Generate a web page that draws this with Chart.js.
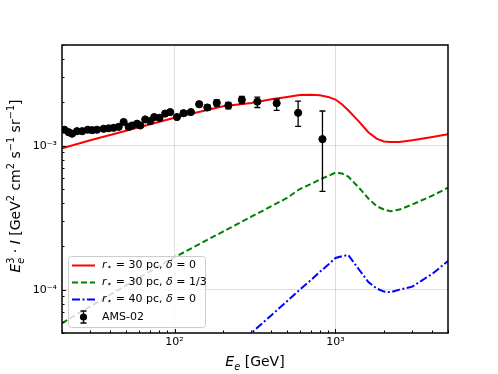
<!DOCTYPE html>
<html lang="en">
<head>
<meta charset="UTF-8">
<title>Electron spectrum vs AMS-02</title>
<script src="https://cdn.jsdelivr.net/npm/chart.js"></script>
<style>
  body { margin: 0; background: #fff; }
  #wrap { width: 498px; height: 374px; }
</style>
</head>
<body>
<div id="wrap"><canvas id="chart" width="498" height="374"></canvas></div>
<script>
// model curves, energy grid in GeV
const energies = [20, 30, 50, 100, 200, 300, 400, 500, 600, 700, 800, 900, 1000,
                  1100, 1200, 1400, 1600, 1800, 2000, 2200, 2500, 3000, 4000, 5000];
const r30d0 = [9.6e-4, 1.09e-3, 1.27e-3, 1.56e-3, 1.88e-3, 1.98e-3, 2.10e-3, 2.18e-3, 2.25e-3, 2.26e-3, 2.24e-3, 2.18e-3, 2.09e-3,
               1.93e-3, 1.76e-3, 1.47e-3, 1.24e-3, 1.12e-3, 1.07e-3, 1.06e-3, 1.06e-3, 1.09e-3, 1.15e-3, 1.20e-3];
const r30d13 = [5.86e-5, 7.64e-5, 1.07e-4, 1.68e-4, 2.53e-4, 3.21e-4, 3.8e-4, 4.33e-4, 5.0e-4, 5.4e-4, 5.83e-4, 6.15e-4, 6.5e-4,
                6.4e-4, 6.1e-4, 5.1e-4, 4.3e-4, 3.8e-4, 3.6e-4, 3.5e-4, 3.6e-4, 3.9e-4, 4.5e-4, 5.1e-4];
const r40d0 = [3.8e-6, 5.6e-6, 9.1e-6, 1.76e-5, 3.4e-5, 5.0e-5, 6.65e-5, 8.3e-5, 1.0e-4, 1.16e-4, 1.33e-4, 1.49e-4, 1.66e-4,
               1.71e-4, 1.74e-4, 1.38e-4, 1.13e-4, 1.02e-4, 9.7e-5, 9.6e-5, 1.0e-4, 1.05e-4, 1.29e-4, 1.58e-4];

// AMS-02 points
const amsE = [20.7, 22.0, 23.1, 24.8, 26.7, 28.9, 30.8, 33.0, 36.3, 39.0, 41.9, 45.0, 48.3, 51.9, 54.5, 58.5,
              61.3, 65.8, 70.7, 74.8, 80.7, 87.5, 94.0, 103.5, 113.7, 126.4, 142.3, 160, 183, 216, 262, 327, 431, 586, 830];
const amsFlux = [1.29e-3, 1.24e-3, 1.21e-3, 1.26e-3, 1.26e-3, 1.29e-3, 1.28e-3, 1.29e-3, 1.31e-3, 1.32e-3, 1.33e-3, 1.35e-3,
                 1.46e-3, 1.35e-3, 1.38e-3, 1.42e-3, 1.38e-3, 1.52e-3, 1.48e-3, 1.58e-3, 1.56e-3, 1.67e-3, 1.71e-3, 1.58e-3,
                 1.68e-3, 1.71e-3, 1.94e-3, 1.84e-3, 1.98e-3, 1.90e-3, 2.08e-3, 2.02e-3, 1.97e-3, 1.69e-3, 1.11e-3];
const amsLo = [1.27e-3, 1.22e-3, 1.19e-3, 1.24e-3, 1.24e-3, 1.27e-3, 1.26e-3, 1.27e-3, 1.29e-3, 1.30e-3, 1.31e-3, 1.32e-3,
               1.43e-3, 1.32e-3, 1.35e-3, 1.39e-3, 1.35e-3, 1.48e-3, 1.44e-3, 1.54e-3, 1.52e-3, 1.62e-3, 1.66e-3, 1.53e-3,
               1.62e-3, 1.65e-3, 1.87e-3, 1.76e-3, 1.88e-3, 1.80e-3, 1.96e-3, 1.84e-3, 1.76e-3, 1.36e-3, 4.82e-4];
const amsHi = [1.31e-3, 1.26e-3, 1.23e-3, 1.28e-3, 1.28e-3, 1.31e-3, 1.30e-3, 1.31e-3, 1.33e-3, 1.34e-3, 1.35e-3, 1.38e-3,
               1.49e-3, 1.38e-3, 1.41e-3, 1.45e-3, 1.41e-3, 1.56e-3, 1.52e-3, 1.62e-3, 1.60e-3, 1.72e-3, 1.76e-3, 1.63e-3,
               1.74e-3, 1.77e-3, 2.01e-3, 1.92e-3, 2.08e-3, 2.00e-3, 2.20e-3, 2.17e-3, 2.10e-3, 2.04e-3, 1.74e-3];

const xMajor = [100, 1000];
const yMajor = [1e-4, 1e-3];

const FONT = '"DejaVu Sans", sans-serif';
const SUP = { '0': '⁰', '1': '¹', '2': '²', '3': '³', '4': '⁴', '5': '⁵', '6': '⁶', '7': '⁷', '8': '⁸', '9': '⁹', '-': '⁻' };
function pow10(v) {
    const e = Math.round(Math.log10(v));
    return '10' + String(e).split('').map(c => SUP[c]).join('');
}
const pts = ys => energies.map((x, i) => ({ x: x, y: ys[i] }));

// draw text made of pieces (italic, super/subscript), centered at the origin
function drawMath(ctx, segs, size) {
    const f = s => (s.it ? 'italic ' : '') + ((s.sup || s.sub) ? size * 0.7 : size) + 'px ' + FONT;
    let total = 0;
    segs.forEach(s => { ctx.font = f(s); s.w = ctx.measureText(s.t).width; if (!s.noAdv) total += s.w; });
    let x = -total / 2;
    ctx.textBaseline = 'alphabetic';
    ctx.textAlign = 'left';
    segs.forEach(s => {
        ctx.font = f(s);
        const dy = s.sup ? -size * 0.42 : s.sub ? size * 0.25 : 0;
        ctx.fillText(s.t, x, dy);
        if (!s.noAdv) x += s.w;
    });
    return total;
}
function drawMathLeft(ctx, segs, size, x, y) {
    const f = s => (s.it ? 'italic ' : '') + (s.sub ? size * 0.85 : size) + 'px ' + FONT;
    ctx.textBaseline = 'middle';
    ctx.textAlign = 'left';
    segs.forEach(s => {
        ctx.font = f(s);
        const dy = s.sub ? size * 0.2 : 0;
        ctx.fillText(s.t, x, y + dy);
        x += ctx.measureText(s.t).width;
    });
}

const decorations = {
    id: 'decorations',
    afterDatasetsDraw(chart) {
        const ctx = chart.ctx, xs = chart.scales.x, ys = chart.scales.y, a = chart.chartArea;

        // error bars
        ctx.save();
        ctx.beginPath();
        ctx.rect(a.left, a.top, a.right - a.left, a.bottom - a.top);
        ctx.clip();
        ctx.strokeStyle = '#000';
        ctx.lineWidth = 1.3;
        amsE.forEach((e, i) => {
            const px = xs.getPixelForValue(e);
            const lo = ys.getPixelForValue(amsLo[i]), hi = ys.getPixelForValue(amsHi[i]);
            ctx.beginPath();
            ctx.moveTo(px, lo); ctx.lineTo(px, hi);
            ctx.moveTo(px - 3, lo); ctx.lineTo(px + 3, lo);
            ctx.moveTo(px - 3, hi); ctx.lineTo(px + 3, hi);
            ctx.stroke();
        });
        ctx.restore();

        // inward ticks
        ctx.save();
        ctx.strokeStyle = '#000';
        ctx.lineWidth = 1;
        for (let d = 1; d <= 3; d++) {
            for (let k = 1; k <= 9; k++) {
                const v = k * Math.pow(10, d);
                if (v < xs.min || v > xs.max) continue;
                const px = Math.round(xs.getPixelForValue(v)) + 0.5;
                const len = k === 1 ? 4 : 2.5;
                ctx.beginPath(); ctx.moveTo(px, a.bottom); ctx.lineTo(px, a.bottom - len); ctx.stroke();
            }
        }
        for (let d = -5; d <= -3; d++) {
            for (let k = 1; k <= 9; k++) {
                const v = k * Math.pow(10, d);
                if (v < ys.min || v > ys.max) continue;
                const py = Math.round(ys.getPixelForValue(v)) + 0.5;
                const len = k === 1 ? 4 : 2.5;
                ctx.beginPath(); ctx.moveTo(a.left, py); ctx.lineTo(a.left + len, py); ctx.stroke();
            }
        }
        // frame
        ctx.lineWidth = 1.5;
        ctx.strokeRect(a.left, a.top, a.right - a.left, a.bottom - a.top);
        ctx.restore();

        // legend
        ctx.save();
        const lx = 68, ly = 256, lw = 137, lh = 71;
        ctx.fillStyle = 'rgba(255,255,255,0.8)';
        ctx.strokeStyle = '#cccccc';
        ctx.lineWidth = 1;
        ctx.beginPath();
        ctx.roundRect(lx + 0.5, ly + 0.5, lw, lh, 3);
        ctx.fill(); ctx.stroke();
        const rows = [265.5, 282.5, 299.5, 317];
        const styles = [
            { c: 'red', dash: [] },
            { c: 'green', dash: [6, 3] },
            { c: 'blue', dash: [8, 2.5, 2, 2.5] }
        ];
        styles.forEach((s, i) => {
            ctx.strokeStyle = s.c; ctx.lineWidth = 2; ctx.setLineDash(s.dash);
            ctx.beginPath(); ctx.moveTo(72, rows[i]); ctx.lineTo(95, rows[i]); ctx.stroke();
        });
        ctx.setLineDash([]);
        ctx.fillStyle = '#000'; ctx.strokeStyle = '#000'; ctx.lineWidth = 1.3;
        ctx.beginPath();
        ctx.moveTo(83.5, rows[3] - 6); ctx.lineTo(83.5, rows[3] + 6);
        ctx.moveTo(80.5, rows[3] - 6); ctx.lineTo(86.5, rows[3] - 6);
        ctx.moveTo(80.5, rows[3] + 6); ctx.lineTo(86.5, rows[3] + 6);
        ctx.stroke();
        ctx.beginPath(); ctx.arc(83.5, rows[3], 3.6, 0, Math.PI * 2); ctx.fill();

        const lab = (r, d) => [{ t: 'r', it: true }, { t: '⋆', sub: true }, { t: ' = ' + r + ' pc, ' },
                               { t: 'δ', it: true }, { t: ' = ' + d }];
        ctx.fillStyle = '#000';
        drawMathLeft(ctx, lab(30, '0'), 11, 102, rows[0]);
        drawMathLeft(ctx, lab(30, '1/3'), 11, 102, rows[1]);
        drawMathLeft(ctx, lab(40, '0'), 11, 102, rows[2]);
        ctx.font = '11px ' + FONT; ctx.textBaseline = 'middle';
        ctx.fillText('AMS-02', 102, rows[3]);
        ctx.restore();

        // axis titles
        ctx.save();
        ctx.fillStyle = '#000';
        ctx.translate((a.left + a.right) / 2, 366);
        drawMath(ctx, [{ t: 'E', it: true }, { t: 'e', it: true, sub: true }, { t: ' [GeV]' }], 14);
        ctx.restore();

        ctx.save();
        ctx.fillStyle = '#000';
        ctx.translate(20, 186);
        ctx.rotate(-Math.PI / 2);
        drawMath(ctx, [
            { t: 'E', it: true }, { t: '3', sup: true, noAdv: true }, { t: 'e', it: true, sub: true },
            { t: ' · ' }, { t: 'I', it: true }, { t: ' [GeV' }, { t: '2', sup: true },
            { t: ' cm' }, { t: '2', sup: true }, { t: ' s' }, { t: '−1', sup: true },
            { t: ' sr' }, { t: '−1', sup: true }, { t: ']' }
        ], 14);
        ctx.restore();
    }
};

new Chart(document.getElementById('chart').getContext('2d'), {
    type: 'scatter',
    data: {
        datasets: [
            {
                label: 'AMS-02',
                data: amsE.map((e, i) => ({ x: e, y: amsFlux[i] })),
                backgroundColor: '#000',
                borderColor: '#000',
                pointRadius: 3.6,
                showLine: false
            },
            {
                label: 'r = 30 pc, delta = 0',
                data: pts(r30d0),
                showLine: true, borderColor: 'red', borderWidth: 2, pointRadius: 0, tension: 0
            },
            {
                label: 'r = 30 pc, delta = 1/3',
                data: pts(r30d13),
                showLine: true, borderColor: 'green', borderWidth: 2, borderDash: [6, 3], pointRadius: 0, tension: 0
            },
            {
                label: 'r = 40 pc, delta = 0',
                data: pts(r40d0),
                showLine: true, borderColor: 'blue', borderWidth: 2, borderDash: [8, 2.5, 2, 2.5], pointRadius: 0, tension: 0
            }
        ]
    },
    options: {
        responsive: false,
        animation: false,
        layout: { padding: { top: 45, right: 50, left: 0, bottom: 0 } },
        plugins: { legend: { display: false }, tooltip: { enabled: false } },
        scales: {
            x: {
                type: 'logarithmic', min: 20, max: 5000,
                afterBuildTicks: s => { s.ticks = xMajor.map(v => ({ value: v })); },
                afterFit: s => { s.height = 41; },
                ticks: { callback: v => pow10(v), color: '#000', font: { family: FONT, size: 11 }, padding: 3, maxRotation: 0 },
                grid: { color: 'rgba(0,0,0,0.16)', lineWidth: 0.8, drawTicks: false },
                border: { display: false }
            },
            y: {
                type: 'logarithmic', min: 5e-5, max: 5e-3,
                afterBuildTicks: s => { s.ticks = yMajor.map(v => ({ value: v })); },
                afterFit: s => { s.width = 62; },
                ticks: { callback: v => pow10(v), color: '#000', font: { family: FONT, size: 11 }, padding: 5 },
                grid: { color: 'rgba(0,0,0,0.16)', lineWidth: 0.8, drawTicks: false },
                border: { display: false }
            }
        }
    },
    plugins: [decorations]
});
</script>
</body>
</html>
